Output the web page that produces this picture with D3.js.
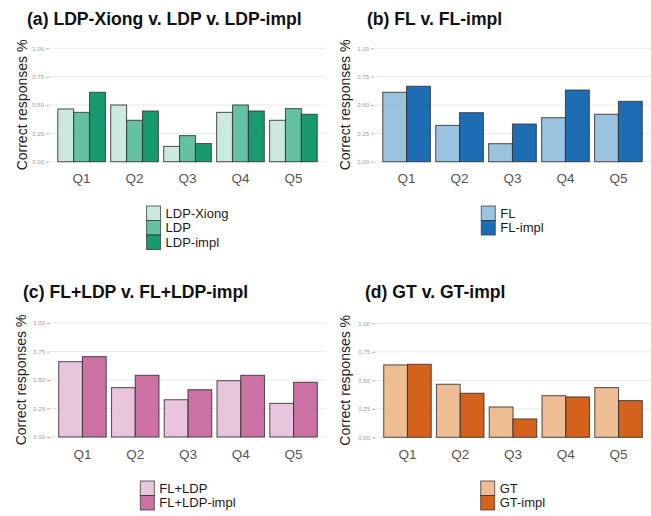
<!DOCTYPE html>
<html>
<head>
<meta charset="utf-8">
<script src="https://cdn.jsdelivr.net/npm/d3@7"></script>
<style>
  body { margin: 0; background: #fff; }
  svg { font-family: "Liberation Sans", Arial, sans-serif; display: block; }
</style>
</head>
<body>
<div id="chart"></div>
<script>
// data
var questions = ["Q1", "Q2", "Q3", "Q4", "Q5"];
var yTicks = [0, 0.25, 0.5, 0.75, 1];

var ldpXiong  = [0.465, 0.50, 0.135, 0.435, 0.365];
var ldp       = [0.435, 0.365, 0.23, 0.50, 0.468];
var ldpImpl   = [0.612, 0.447, 0.16, 0.447, 0.418];

var fl        = [0.612, 0.32, 0.159, 0.388, 0.418];
var flImpl    = [0.665, 0.432, 0.332, 0.632, 0.532];

var flLdp     = [0.661, 0.433, 0.327, 0.494, 0.295];
var flLdpImpl = [0.705, 0.541, 0.415, 0.541, 0.48];

var gt        = [0.635, 0.465, 0.266, 0.365, 0.436];
var gtImpl    = [0.64, 0.386, 0.161, 0.354, 0.322];

var panels = [
  {title: "(a) LDP-Xiong v. LDP v. LDP-impl", left: 49, right: 326, zero: 161.7, one: 48.3,
   titleX: 27, titleY: 25, labX: 27, legTop: 206,
   series: [{name: "LDP-Xiong", values: ldpXiong, color: "#c5e7da"},
            {name: "LDP", values: ldp, color: "#53ba99"},
            {name: "LDP-impl", values: ldpImpl, color: "#008f5e"}]},
  {title: "(b) FL v. FL-impl", left: 374, right: 651, zero: 161.7, one: 48.3,
   titleX: 367, titleY: 25, labX: 350, legTop: 206,
   series: [{name: "FL", values: fl, color: "#8fbddc"},
            {name: "FL-impl", values: flImpl, color: "#035dab"}]},
  {title: "(c) FL+LDP v. FL+LDP-impl", left: 50, right: 326, zero: 437, one: 323,
   titleX: 23, titleY: 298, labX: 26, legTop: 481,
   series: [{name: "FL+LDP", values: flLdp, color: "#e5bed9"},
            {name: "FL+LDP-impl", values: flLdpImpl, color: "#c56299"}]},
  {title: "(d) GT v. GT-impl", left: 375, right: 651, zero: 437.3, one: 323.3,
   titleX: 365, titleY: 298, labX: 350, legTop: 481,
   series: [{name: "GT", values: gt, color: "#edb687"},
            {name: "GT-impl", values: gtImpl, color: "#cf5003"}]}
];

var svg = d3.select("#chart").append("svg")
    .attr("width", 651)
    .attr("height", 516);

panels.forEach(function(p) {
  var g = svg.append("g");

  var x = d3.scaleBand()
      .domain(questions)
      .range([p.left, p.right])
      .paddingInner(0.1)
      .paddingOuter(0.165);

  var sub = d3.scaleBand()
      .domain(p.series.map(function(s) { return s.name; }))
      .range([0, x.bandwidth()]);

  var y = d3.scaleLinear()
      .domain([0, 1])
      .range([p.zero, p.one]);

  // grid
  g.selectAll(".grid")
    .data(yTicks)
    .enter().append("line")
      .attr("x1", p.left)
      .attr("x2", p.right)
      .attr("y1", function(d) { return y(d); })
      .attr("y2", function(d) { return y(d); })
      .attr("stroke", "#e3e3e3")
      .attr("stroke-width", 0.8);

  // y axis (no domain line)
  var yAxis = g.append("g")
      .attr("transform", "translate(" + p.left + ",0)")
      .call(d3.axisLeft(y).tickValues(yTicks).tickFormat(d3.format(".2f")).tickSize(3).tickPadding(2));
  yAxis.select(".domain").remove();
  yAxis.selectAll("line").attr("stroke", "#b0b0b0");
  yAxis.selectAll("text")
      .attr("fill", "#9a9a9a")
      .style("font-size", "6px")
      .style("font-family", "Liberation Sans, Arial, sans-serif");

  // x labels
  g.selectAll(".xl")
    .data(questions)
    .enter().append("text")
      .attr("x", function(d) { return x(d) + x.bandwidth() / 2; })
      .attr("y", p.zero + 21.5)
      .attr("text-anchor", "middle")
      .attr("fill", "#555")
      .style("font-size", "13.5px")
      .text(function(d) { return d; });

  // bars
  p.series.forEach(function(s) {
    g.selectAll(null)
      .data(s.values)
      .enter().append("rect")
        .attr("x", function(d, i) { return x(questions[i]) + sub(s.name); })
        .attr("y", function(d) { return y(d); })
        .attr("width", sub.bandwidth())
        .attr("height", function(d) { return y(0) - y(d); })
        .attr("fill", s.color)
        .attr("fill-opacity", 0.9)
        .attr("stroke", "#333")
        .attr("stroke-opacity", 0.8)
        .attr("stroke-width", 1.1);
  });

  // title
  g.append("text")
      .attr("x", p.titleX)
      .attr("y", p.titleY)
      .attr("font-weight", "bold")
      .attr("fill", "#111")
      .style("font-size", "17.6px")
      .text(p.title);

  // y label
  g.append("text")
      .attr("transform", "translate(" + p.labX + "," + ((p.zero + p.one) / 2) + ") rotate(-90)")
      .attr("text-anchor", "middle")
      .attr("fill", "#222")
      .style("font-size", "14px")
      .text("Correct responses %");

  // legend, centred under the plot
  var leg = g.append("g");
  var key = 14.5;
  p.series.forEach(function(s, i) {
    leg.append("rect")
        .attr("x", 0)
        .attr("y", p.legTop + i * key)
        .attr("width", 14)
        .attr("height", key)
        .attr("fill", s.color)
        .attr("fill-opacity", 0.9)
        .attr("stroke", "#333")
        .attr("stroke-opacity", 0.75);
    leg.append("text")
        .attr("x", 19)
        .attr("y", p.legTop + i * key + key / 2 + 4.7)
        .attr("fill", "#1a1a1a")
        .style("font-size", "13px")
        .text(s.name);
  });
  var w = leg.node().getBBox().width;
  leg.attr("transform", "translate(" + ((p.left + p.right) / 2 - w / 2) + ",0)");
});
</script>
</body>
</html>
